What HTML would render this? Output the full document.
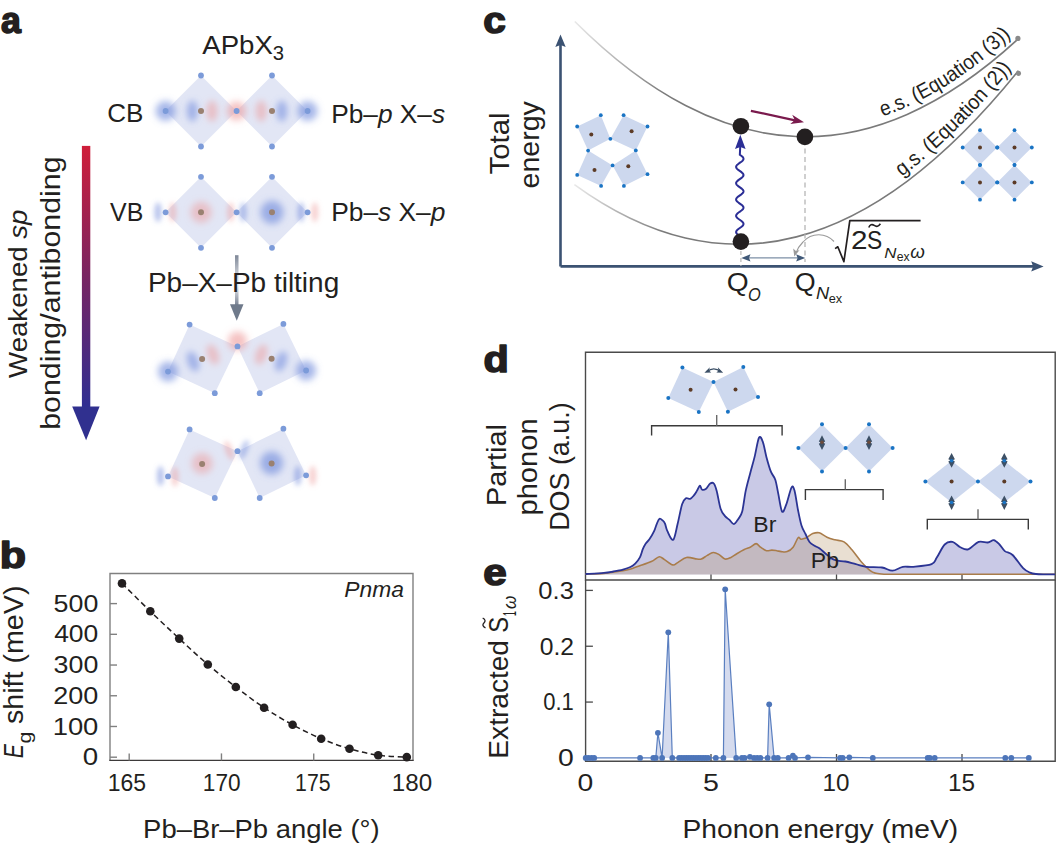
<!DOCTYPE html>
<html><head><meta charset="utf-8"><style>
html,body{margin:0;padding:0;background:#fff;}
svg{display:block;}
text{font-family:"Liberation Sans", sans-serif;}
</style></head><body>
<svg width="1056" height="845" viewBox="0 0 1056 845">
<rect width="1056" height="845" fill="#fff"/>
<defs>
<filter id="blur3" x="-100%" y="-100%" width="300%" height="300%"><feGaussianBlur stdDeviation="3"/></filter>
<filter id="blur4" x="-100%" y="-100%" width="300%" height="300%"><feGaussianBlur stdDeviation="4"/></filter>
<filter id="blur5" x="-100%" y="-100%" width="300%" height="300%"><feGaussianBlur stdDeviation="5"/></filter>
<filter id="blurR" x="-100%" y="-100%" width="300%" height="300%"><feGaussianBlur stdDeviation="3.6"/></filter>
<filter id="blurE" x="-100%" y="-100%" width="300%" height="300%"><feGaussianBlur stdDeviation="2.6"/></filter>
<filter id="blurC" x="-100%" y="-100%" width="300%" height="300%"><feGaussianBlur stdDeviation="3.4"/></filter>
<linearGradient id="gradArrow" x1="0" y1="0" x2="0" y2="1">
 <stop offset="0" stop-color="#cf1e3a"/><stop offset="0.5" stop-color="#782462"/><stop offset="1" stop-color="#2f2e92"/>
</linearGradient>
<linearGradient id="grayArrow" x1="0" y1="255" x2="0" y2="321" gradientUnits="userSpaceOnUse">
 <stop offset="0" stop-color="#7e8797"/><stop offset="0.45" stop-color="#eef0f3"/><stop offset="0.75" stop-color="#7e8797"/><stop offset="1" stop-color="#6f7a8b"/>
</linearGradient>
<linearGradient id="esGrad" x1="575" y1="0" x2="665" y2="0" gradientUnits="userSpaceOnUse">
 <stop offset="0" stop-color="#e8e8e8"/><stop offset="1" stop-color="#7a7a7a"/>
</linearGradient>
<linearGradient id="gsGrad" x1="575" y1="0" x2="665" y2="0" gradientUnits="userSpaceOnUse">
 <stop offset="0" stop-color="#e8e8e8"/><stop offset="1" stop-color="#7a7a7a"/>
</linearGradient>
</defs><text x="1.03" y="32.9" font-size="37.04" font-weight="bold" font-style="normal" textLength="19.86" lengthAdjust="spacingAndGlyphs" fill="#231f20" stroke="#231f20" stroke-width="1.6" stroke-linejoin="round">a</text><text x="-0.29" y="568.4" font-size="37.79" font-weight="bold" font-style="normal" textLength="26.25" lengthAdjust="spacingAndGlyphs" fill="#231f20" stroke="#231f20" stroke-width="1.6" stroke-linejoin="round">b</text><text x="483.38" y="32.9" font-size="37.04" font-weight="bold" font-style="normal" textLength="22.59" lengthAdjust="spacingAndGlyphs" fill="#231f20" stroke="#231f20" stroke-width="1.6" stroke-linejoin="round">c</text><text x="483.64" y="371.7" font-size="37.79" font-weight="bold" font-style="normal" textLength="25.28" lengthAdjust="spacingAndGlyphs" fill="#231f20" stroke="#231f20" stroke-width="1.6" stroke-linejoin="round">d</text><text x="483.31" y="584.8" font-size="37.04" font-weight="bold" font-style="normal" textLength="23.52" lengthAdjust="spacingAndGlyphs" fill="#231f20" stroke="#231f20" stroke-width="1.6" stroke-linejoin="round">e</text><path d="M110,760.4 V573.5 H413 V760.4" fill="none" stroke="#808080" stroke-width="1.4"/><path d="M109.3,760.4 H413.7" fill="none" stroke="#3d3a3a" stroke-width="1.3"/><path d="M110,757.2 h7" stroke="#808080" stroke-width="1.4"/><text x="82.89" y="765.3" font-size="23" font-weight="normal" font-style="normal" textLength="15.41" lengthAdjust="spacingAndGlyphs" fill="#231f20" >0</text><path d="M110,726.48 h7" stroke="#808080" stroke-width="1.4"/><text x="52.65" y="734.58" font-size="23" font-weight="normal" font-style="normal" textLength="45.71" lengthAdjust="spacingAndGlyphs" fill="#231f20" >100</text><path d="M110,695.76 h7" stroke="#808080" stroke-width="1.4"/><text x="53.35" y="703.86" font-size="23" font-weight="normal" font-style="normal" textLength="44.99" lengthAdjust="spacingAndGlyphs" fill="#231f20" >200</text><path d="M110,665.04 h7" stroke="#808080" stroke-width="1.4"/><text x="53.63" y="673.14" font-size="23" font-weight="normal" font-style="normal" textLength="44.7" lengthAdjust="spacingAndGlyphs" fill="#231f20" >300</text><path d="M110,634.32 h7" stroke="#808080" stroke-width="1.4"/><text x="54.17" y="642.42" font-size="23" font-weight="normal" font-style="normal" textLength="44.15" lengthAdjust="spacingAndGlyphs" fill="#231f20" >400</text><path d="M110,603.6 h7" stroke="#808080" stroke-width="1.4"/><text x="53.63" y="611.7" font-size="23" font-weight="normal" font-style="normal" textLength="44.7" lengthAdjust="spacingAndGlyphs" fill="#231f20" >500</text><path d="M129.2,760.4 v-7" stroke="#808080" stroke-width="1.4"/><text x="107.68" y="790.6" font-size="23.5" font-weight="normal" font-style="normal" textLength="38.32" lengthAdjust="spacingAndGlyphs" fill="#231f20" >165</text><path d="M221.46,760.4 v-7" stroke="#808080" stroke-width="1.4"/><text x="202.8" y="790.6" font-size="23.5" font-weight="normal" font-style="normal" textLength="37.77" lengthAdjust="spacingAndGlyphs" fill="#231f20" >170</text><path d="M313.73,760.4 v-7" stroke="#808080" stroke-width="1.4"/><text x="295.1" y="790.6" font-size="23.5" font-weight="normal" font-style="normal" textLength="35.52" lengthAdjust="spacingAndGlyphs" fill="#231f20" >175</text><path d="M406,760.4 v-7" stroke="#808080" stroke-width="1.4"/><text x="391.79" y="790.6" font-size="23.5" font-weight="normal" font-style="normal" textLength="40.34" lengthAdjust="spacingAndGlyphs" fill="#231f20" >180</text><path d="M122,583.4 C126.72,588.05 140.77,602.1 150.3,611.3 C159.83,620.5 169.62,629.73 179.2,638.6 C188.78,647.47 198.37,656.43 207.8,664.5 C217.23,672.57 226.42,679.8 235.8,687 C245.18,694.2 254.63,701.4 264.1,707.7 C273.57,714 283.08,719.63 292.6,724.8 C302.12,729.97 311.72,734.7 321.2,738.7 C330.68,742.7 340,746.05 349.5,748.8 C359,751.55 368.65,753.82 378.2,755.2 C387.75,756.58 402.03,756.78 406.8,757.1" fill="none" stroke="#231f20" stroke-width="1.5" stroke-dasharray="5.5 3.5"/><circle cx="122" cy="583.4" r="4.3" fill="#231f20"/><circle cx="150.3" cy="611.3" r="4.3" fill="#231f20"/><circle cx="179.2" cy="638.6" r="4.3" fill="#231f20"/><circle cx="207.8" cy="664.5" r="4.3" fill="#231f20"/><circle cx="235.8" cy="687.0" r="4.3" fill="#231f20"/><circle cx="264.1" cy="707.7" r="4.3" fill="#231f20"/><circle cx="292.6" cy="724.8" r="4.3" fill="#231f20"/><circle cx="321.2" cy="738.7" r="4.3" fill="#231f20"/><circle cx="349.5" cy="748.8" r="4.3" fill="#231f20"/><circle cx="378.2" cy="755.2" r="4.3" fill="#231f20"/><circle cx="406.8" cy="757.1" r="4.3" fill="#231f20"/><text x="344.22" y="596.9" font-size="22" font-weight="normal" font-style="italic" textLength="59.64" lengthAdjust="spacingAndGlyphs" fill="#231f20" >Pnma</text><g transform="translate(23.2,757.6) rotate(-90)"><text x="-0.64" y="0" font-size="27" font-weight="normal" font-style="italic" textLength="14.17" lengthAdjust="spacingAndGlyphs" fill="#231f20" >E</text><text x="14.05" y="8" font-size="18.5" font-weight="normal" font-style="normal" textLength="11.86" lengthAdjust="spacingAndGlyphs" fill="#231f20" >g</text><text x="33.54" y="0" font-size="27" font-weight="normal" font-style="normal" textLength="138.5" lengthAdjust="spacingAndGlyphs" fill="#231f20" >shift (meV)</text></g><text x="143.11" y="837.8" font-size="26" font-weight="normal" font-style="normal" textLength="236.6" lengthAdjust="spacingAndGlyphs" fill="#231f20" >Pb–Br–Pb angle (°)</text><path d="M585.6,579.8 V761.3 H1055.2 V579.8" fill="none" stroke="#4a4a4a" stroke-width="1.4"/><path d="M585.6,757.9 h7.3" stroke="#4a4a4a" stroke-width="1.3"/><text x="558.07" y="766.2" font-size="23" font-weight="normal" font-style="normal" textLength="15.76" lengthAdjust="spacingAndGlyphs" fill="#231f20" >0</text><path d="M585.6,702.07 h7.3" stroke="#4a4a4a" stroke-width="1.3"/><text x="543.22" y="710.37" font-size="23" font-weight="normal" font-style="normal" textLength="30.57" lengthAdjust="spacingAndGlyphs" fill="#231f20" >0.1</text><path d="M585.6,646.24 h7.3" stroke="#4a4a4a" stroke-width="1.3"/><text x="539.71" y="654.54" font-size="23" font-weight="normal" font-style="normal" textLength="34.33" lengthAdjust="spacingAndGlyphs" fill="#231f20" >0.2</text><path d="M585.6,590.41 h7.3" stroke="#4a4a4a" stroke-width="1.3"/><text x="538.38" y="598.71" font-size="23" font-weight="normal" font-style="normal" textLength="35.44" lengthAdjust="spacingAndGlyphs" fill="#231f20" >0.3</text><text x="577.57" y="791" font-size="23.5" font-weight="normal" font-style="normal" textLength="15.76" lengthAdjust="spacingAndGlyphs" fill="#231f20" >0</text><path d="M711,761.3 v-7.3" stroke="#4a4a4a" stroke-width="1.3"/><text x="703.05" y="791" font-size="23.5" font-weight="normal" font-style="normal" textLength="15.92" lengthAdjust="spacingAndGlyphs" fill="#231f20" >5</text><path d="M836.5,761.3 v-7.3" stroke="#4a4a4a" stroke-width="1.3"/><text x="822.58" y="791" font-size="23.5" font-weight="normal" font-style="normal" textLength="26.92" lengthAdjust="spacingAndGlyphs" fill="#231f20" >10</text><path d="M962,761.3 v-7.3" stroke="#4a4a4a" stroke-width="1.3"/><text x="948.08" y="791" font-size="23.5" font-weight="normal" font-style="normal" textLength="27.05" lengthAdjust="spacingAndGlyphs" fill="#231f20" >15</text><text x="682.55" y="837.8" font-size="26" font-weight="normal" font-style="normal" textLength="275.65" lengthAdjust="spacingAndGlyphs" fill="#231f20" >Phonon energy (meV)</text><g transform="translate(508.1,756.4) rotate(-90)"><text x="-2.25" y="0" font-size="27" font-weight="normal" font-style="normal" textLength="118.65" lengthAdjust="spacingAndGlyphs" fill="#231f20" >Extracted</text><text x="123.73" y="0" font-size="27" font-weight="normal" font-style="normal" textLength="15.89" lengthAdjust="spacingAndGlyphs" fill="#231f20" >S</text><path d="M128.6,-22.6 C129.8,-25.6 132,-25.8 133.4,-24.2 C134.8,-22.6 137,-22.4 138.2,-25.4" fill="none" stroke="#231f20" stroke-width="1.3"/><text x="140.11" y="8.3" font-size="17.5" font-weight="normal" font-style="normal" textLength="5.11" lengthAdjust="spacingAndGlyphs" fill="#231f20" >1</text><text x="147.38" y="8.3" font-size="17.5" font-weight="normal" font-style="italic" textLength="13.41" lengthAdjust="spacingAndGlyphs" fill="#231f20" >ω</text></g><path d="M585.5,580 V352.3 H1055.2 V580 Z" fill="none" stroke="#4a4a4a" stroke-width="1.4"/><path d="M711,580 v-7.5" stroke="#4a4a4a" stroke-width="1.3"/><path d="M836.5,580 v-7.5" stroke="#4a4a4a" stroke-width="1.3"/><path d="M962,580 v-7.5" stroke="#4a4a4a" stroke-width="1.3"/><g transform="translate(506.4,503.6) rotate(-90)"><text x="-2.31" y="0" font-size="27" font-weight="normal" font-style="normal" textLength="81.71" lengthAdjust="spacingAndGlyphs" fill="#231f20" >Partial</text></g><g transform="translate(536.6,513.7) rotate(-90)"><text x="-1.9" y="0" font-size="27" font-weight="normal" font-style="normal" textLength="97.35" lengthAdjust="spacingAndGlyphs" fill="#231f20" >phonon</text></g><g transform="translate(569,528.7) rotate(-90)"><text x="-2.15" y="0" font-size="27" font-weight="normal" font-style="normal" textLength="128.47" lengthAdjust="spacingAndGlyphs" fill="#231f20" >DOS (a.u.)</text></g><path d="M560.5,266.4 V45 M560.5,266.4 H1034" fill="none" stroke="#3b5272" stroke-width="2.6"/><path d="M1043.6,266.4 L1031.2,261.2 L1033.1,266.4 L1031.2,271.6 Z" fill="#3b5272"/><path d="M560.5,34.6 L555.3,47 L560.5,45 L565.7,47 Z" fill="#3b5272"/><g transform="translate(509.1,174) rotate(-90)"><text x="-0.59" y="0" font-size="28" font-weight="normal" font-style="normal" textLength="62.17" lengthAdjust="spacingAndGlyphs" fill="#231f20" >Total</text></g><g transform="translate(539.2,187.3) rotate(-90)"><text x="-1.14" y="0" font-size="28" font-weight="normal" font-style="normal" textLength="87.18" lengthAdjust="spacingAndGlyphs" fill="#231f20" >energy</text></g><path d="M574.8,21.48 Q630.19,76.78 685.57,105.54 Q740.96,134.3 796.35,136.51 Q851.74,138.73 907.12,114.41 Q962.51,90.08 1017.9,39.21" fill="none" stroke="url(#esGrad)" stroke-width="1.6"/><path d="M574.4,184.68 Q629.9,225.01 685.4,238.06 Q740.9,251.11 796.4,236.88 Q851.9,222.65 907.4,181.14 Q962.9,139.63 1018.4,70.85" fill="none" stroke="url(#gsGrad)" stroke-width="1.6"/><circle cx="1017.9" cy="38.4" r="2.6" fill="#8a8a8a"/><circle cx="1018.4" cy="73.3" r="2.6" fill="#8a8a8a"/><text x="887.52" y="114.75" font-size="21" text-anchor="middle" fill="#231f20" transform="rotate(-20.04 887.52 114.75) scale(1)"><tspan textLength="10.63" lengthAdjust="spacingAndGlyphs">e</tspan></text><text x="894.97" y="111.91" font-size="21" text-anchor="middle" fill="#231f20" transform="rotate(-21.70 894.97 111.91) scale(1)"><tspan textLength="5.31" lengthAdjust="spacingAndGlyphs">.</tspan></text><text x="901.84" y="109.07" font-size="21" text-anchor="middle" fill="#231f20" transform="rotate(-23.19 901.84 109.07) scale(1)"><tspan textLength="9.56" lengthAdjust="spacingAndGlyphs">s</tspan></text><text x="908.63" y="106.06" font-size="21" text-anchor="middle" fill="#231f20" transform="rotate(-24.62 908.63 106.06) scale(1)"><tspan textLength="5.31" lengthAdjust="spacingAndGlyphs">.</tspan></text><text x="918.68" y="101.23" font-size="21" text-anchor="middle" fill="#231f20" transform="rotate(-26.70 918.68 101.23) scale(1)"><tspan textLength="6.37" lengthAdjust="spacingAndGlyphs">(</tspan></text><text x="927.16" y="96.81" font-size="21" text-anchor="middle" fill="#231f20" transform="rotate(-28.37 927.16 96.81) scale(1)"><tspan textLength="12.75" lengthAdjust="spacingAndGlyphs">E</tspan></text><text x="937.35" y="91.07" font-size="21" text-anchor="middle" fill="#231f20" transform="rotate(-30.35 937.35 91.07) scale(1)"><tspan textLength="10.63" lengthAdjust="spacingAndGlyphs">q</tspan></text><text x="946.44" y="85.57" font-size="21" text-anchor="middle" fill="#231f20" transform="rotate(-32.03 946.44 85.57) scale(1)"><tspan textLength="10.63" lengthAdjust="spacingAndGlyphs">u</tspan></text><text x="955.38" y="79.8" font-size="21" text-anchor="middle" fill="#231f20" transform="rotate(-33.61 955.38 79.8) scale(1)"><tspan textLength="10.63" lengthAdjust="spacingAndGlyphs">a</tspan></text><text x="961.97" y="75.33" font-size="21" text-anchor="middle" fill="#231f20" transform="rotate(-34.75 961.97 75.33) scale(1)"><tspan textLength="5.31" lengthAdjust="spacingAndGlyphs">t</tspan></text><text x="965.88" y="72.58" font-size="21" text-anchor="middle" fill="#231f20" transform="rotate(-35.40 965.88 72.58) scale(1)"><tspan textLength="4.25" lengthAdjust="spacingAndGlyphs">i</tspan></text><text x="971.91" y="68.22" font-size="21" text-anchor="middle" fill="#231f20" transform="rotate(-36.40 971.91 68.22) scale(1)"><tspan textLength="10.63" lengthAdjust="spacingAndGlyphs">o</tspan></text><text x="980.39" y="61.8" font-size="21" text-anchor="middle" fill="#231f20" transform="rotate(-37.77 980.39 61.8) scale(1)"><tspan textLength="10.63" lengthAdjust="spacingAndGlyphs">n</tspan></text><text x="991.18" y="53.19" font-size="21" text-anchor="middle" fill="#231f20" transform="rotate(-39.43 991.18 53.19) scale(1)"><tspan textLength="6.37" lengthAdjust="spacingAndGlyphs">(</tspan></text><text x="997.7" y="47.74" font-size="21" text-anchor="middle" fill="#231f20" transform="rotate(-40.39 997.7 47.74) scale(1)"><tspan textLength="10.63" lengthAdjust="spacingAndGlyphs">3</tspan></text><text x="1004.13" y="42.18" font-size="21" text-anchor="middle" fill="#231f20" transform="rotate(-41.31 1004.13 42.18) scale(1)"><tspan textLength="6.37" lengthAdjust="spacingAndGlyphs">)</tspan></text><text x="1008.89" y="37.95" font-size="21" text-anchor="middle" fill="#231f20" transform="rotate(-41.97 1008.89 37.95) scale(1)"><tspan textLength="6.37" lengthAdjust="spacingAndGlyphs">)</tspan></text><text x="905.93" y="173.48" font-size="21" text-anchor="middle" fill="#231f20" transform="rotate(-37.24 905.93 173.48) scale(1)"><tspan textLength="10.77" lengthAdjust="spacingAndGlyphs">g</tspan></text><text x="912.31" y="168.54" font-size="21" text-anchor="middle" fill="#231f20" transform="rotate(-38.26 912.31 168.54) scale(1)"><tspan textLength="5.38" lengthAdjust="spacingAndGlyphs">.</tspan></text><text x="918.19" y="163.83" font-size="21" text-anchor="middle" fill="#231f20" transform="rotate(-39.19 918.19 163.83) scale(1)"><tspan textLength="9.68" lengthAdjust="spacingAndGlyphs">s</tspan></text><text x="923.99" y="159.02" font-size="21" text-anchor="middle" fill="#231f20" transform="rotate(-40.07 923.99 159.02) scale(1)"><tspan textLength="5.38" lengthAdjust="spacingAndGlyphs">.</tspan></text><text x="932.55" y="151.65" font-size="21" text-anchor="middle" fill="#231f20" transform="rotate(-41.34 932.55 151.65) scale(1)"><tspan textLength="6.45" lengthAdjust="spacingAndGlyphs">(</tspan></text><text x="939.76" y="145.19" font-size="21" text-anchor="middle" fill="#231f20" transform="rotate(-42.37 939.76 145.19) scale(1)"><tspan textLength="12.92" lengthAdjust="spacingAndGlyphs">E</tspan></text><text x="948.43" y="137.12" font-size="21" text-anchor="middle" fill="#231f20" transform="rotate(-43.56 948.43 137.12) scale(1)"><tspan textLength="10.77" lengthAdjust="spacingAndGlyphs">q</tspan></text><text x="956.17" y="129.63" font-size="21" text-anchor="middle" fill="#231f20" transform="rotate(-44.58 956.17 129.63) scale(1)"><tspan textLength="10.77" lengthAdjust="spacingAndGlyphs">u</tspan></text><text x="963.77" y="122" font-size="21" text-anchor="middle" fill="#231f20" transform="rotate(-45.56 963.77 122) scale(1)"><tspan textLength="10.77" lengthAdjust="spacingAndGlyphs">a</tspan></text><text x="969.39" y="116.2" font-size="21" text-anchor="middle" fill="#231f20" transform="rotate(-46.25 969.39 116.2) scale(1)"><tspan textLength="5.38" lengthAdjust="spacingAndGlyphs">t</tspan></text><text x="972.73" y="112.69" font-size="21" text-anchor="middle" fill="#231f20" transform="rotate(-46.66 972.73 112.69) scale(1)"><tspan textLength="4.3" lengthAdjust="spacingAndGlyphs">i</tspan></text><text x="977.87" y="107.18" font-size="21" text-anchor="middle" fill="#231f20" transform="rotate(-47.28 977.87 107.18) scale(1)"><tspan textLength="10.77" lengthAdjust="spacingAndGlyphs">o</tspan></text><text x="985.12" y="99.22" font-size="21" text-anchor="middle" fill="#231f20" transform="rotate(-48.11 985.12 99.22) scale(1)"><tspan textLength="10.77" lengthAdjust="spacingAndGlyphs">n</tspan></text><text x="994.37" y="88.72" font-size="21" text-anchor="middle" fill="#231f20" transform="rotate(-49.16 994.37 88.72) scale(1)"><tspan textLength="6.45" lengthAdjust="spacingAndGlyphs">(</tspan></text><text x="999.96" y="82.17" font-size="21" text-anchor="middle" fill="#231f20" transform="rotate(-49.75 999.96 82.17) scale(1)"><tspan textLength="10.77" lengthAdjust="spacingAndGlyphs">2</tspan></text><text x="1005.49" y="75.57" font-size="21" text-anchor="middle" fill="#231f20" transform="rotate(-50.33 1005.49 75.57) scale(1)"><tspan textLength="6.45" lengthAdjust="spacingAndGlyphs">)</tspan></text><text x="1009.59" y="70.59" font-size="21" text-anchor="middle" fill="#231f20" transform="rotate(-50.76 1009.59 70.59) scale(1)"><tspan textLength="6.45" lengthAdjust="spacingAndGlyphs">)</tspan></text><path d="M740.9,244 V266" stroke="#b8b8b8" stroke-width="1.2" stroke-dasharray="4 3"/><path d="M805,140 V262" stroke="#b0b0b0" stroke-width="1.2" stroke-dasharray="5 3.5"/><path d="M747,257.9 H799" stroke="#7d8fa6" stroke-width="1.3"/><path d="M741.3,257.9 L750.5,254.3 L749,257.9 L750.5,261.5 Z" fill="#3f5877"/><path d="M805.3,257.9 L796.1,254.3 L797.6,257.9 L796.1,261.5 Z" fill="#3f5877"/><path d="M834,241.5 C826,233 812,232 803,242 C799,246 797,250 796,253" fill="none" stroke="#9a9a9a" stroke-width="1.1"/><path d="M794.3,256.5 L793.2,248.5 L796.2,251.2 L799.6,250 Z" fill="#9a9a9a"/><path d="M737.57,234.5 L737.05,234 L736.63,233.5 L736.32,233 L736.14,232.5 L736.1,232.01 L736.2,231.51 L736.42,231.01 L736.77,230.51 L737.24,230.01 L737.79,229.51 L738.42,229.01 L739.11,228.51 L739.81,228.02 L740.52,227.52 L741.2,227.02 L741.83,226.52 L742.38,226.02 L742.84,225.52 L743.19,225.02 L743.41,224.53 L743.5,224.03 L743.45,223.53 L743.27,223.03 L742.96,222.53 L742.53,222.03 L742.01,221.53 L741.4,221.03 L740.73,220.53 L740.03,220.04 L739.32,219.54 L738.63,219.04 L737.98,218.54 L737.4,218.04 L736.9,217.54 L736.52,217.04 L736.25,216.54 L736.12,216.05 L736.12,215.55 L736.25,215.05 L736.52,214.55 L736.91,214.05 L737.4,213.55 L737.99,213.05 L738.64,212.56 L739.33,212.06 L740.04,211.56 L740.74,211.06 L741.41,210.56 L742.01,210.06 L742.54,209.56 L742.96,209.06 L743.27,208.56 L743.45,208.07 L743.5,207.57 L743.41,207.07 L743.18,206.57 L742.84,206.07 L742.38,205.57 L741.82,205.07 L741.19,204.57 L740.51,204.08 L739.8,203.58 L739.1,203.08 L738.42,202.58 L737.79,202.08 L737.23,201.58 L736.77,201.08 L736.42,200.58 L736.19,200.09 L736.1,199.59 L736.15,199.09 L736.33,198.59 L736.63,198.09 L737.06,197.59 L737.58,197.09 L738.19,196.59 L738.85,196.1 L739.55,195.6 L740.26,195.1 L740.96,194.6 L741.61,194.1 L742.19,193.6 L742.69,193.1 L743.08,192.6 L743.34,192.11 L743.48,191.61 L743.48,191.11 L743.35,190.61 L743.09,190.11 L742.7,189.61 L742.21,189.11 L741.63,188.62 L740.98,188.12 L740.29,187.62 L739.58,187.12 L738.88,186.62 L738.21,186.12 L737.6,185.62 L737.07,185.12 L736.64,184.62 L736.33,184.13 L736.15,183.63 L736.1,183.13 L736.19,182.63 L736.41,182.13 L736.76,181.63 L737.21,181.13 L737.77,180.63 L738.39,180.14 L739.07,179.64 L739.78,179.14 L740.49,178.64 L741.17,178.14 L741.8,177.64 L742.36,177.14 L742.82,176.64 L743.17,176.15 L743.4,175.65 L743.5,175.15 L743.46,174.65 L743.28,174.15 L742.98,173.65 L742.55,173.15 L742.03,172.66 L741.43,172.16 L740.76,171.66 L740.06,171.16 L739.35,170.66 L738.66,170.16 L738.01,169.66 L737.42,169.16 L736.92,168.66 L736.53,168.17 L736.26,167.67 L736.12,167.17 L736.11,166.67 L736.25,166.17 L736.51,165.67 L736.89,165.17 L737.38,164.67 L737.96,164.18 L738.61,163.68 L739.3,163.18 L740.01,162.68 L740.71,162.18 L741.38,161.68 L741.99,161.18 L742.52,160.69 L742.95,160.19 L743.26,159.69 L743.45,159.19 L743.5,158.69 L743.41,158.19 L743.2,157.69 L742.85,157.19 L742.4,156.69 L741.85,156.2 L741.22,155.7 L740.54,155.2 L739.84,154.7 L740.2,147" fill="none" stroke="#2b2e96" stroke-width="2"/><path d="M740.3,134.8 L735,149 L740.3,147 L745.6,149 Z" fill="#2b2e96"/><path d="M750.9,110.8 L795,120.3" stroke="#7a1a4d" stroke-width="2.3"/><path d="M804,122.2 L792.2,114.8 L794.8,120.1 L790.3,124 Z" fill="#7a1a4d"/><circle cx="740.9" cy="126.2" r="8.3" fill="#231f20"/><circle cx="804.9" cy="136.9" r="8.3" fill="#231f20"/><circle cx="740.9" cy="241.6" r="8.3" fill="#231f20"/><text x="726.83" y="291" font-size="26.5" font-weight="normal" font-style="normal" textLength="21.92" lengthAdjust="spacingAndGlyphs" fill="#231f20" >Q</text><text x="747.9" y="300.7" font-size="18.5" font-weight="normal" font-style="italic" textLength="12.76" lengthAdjust="spacingAndGlyphs" fill="#231f20" >O</text><text x="794.79" y="291" font-size="26.5" font-weight="normal" font-style="normal" textLength="20.89" lengthAdjust="spacingAndGlyphs" fill="#231f20" >Q</text><text x="816.05" y="299.3" font-size="17" font-weight="normal" font-style="italic" textLength="13.2" lengthAdjust="spacingAndGlyphs" fill="#231f20" >N</text><text x="828.79" y="303.3" font-size="13.5" font-weight="normal" font-style="normal" textLength="13.45" lengthAdjust="spacingAndGlyphs" fill="#231f20" >ex</text><path d="M835.1,248.6 L837.8,246.8 L843.9,261.6 L849.8,220.7 H920.6" fill="none" stroke="#231f20" stroke-width="1.7" stroke-linejoin="round"/><text x="850.92" y="248.6" font-size="26.5" font-weight="normal" font-style="normal" textLength="16.5" lengthAdjust="spacingAndGlyphs" fill="#231f20" >2</text><text x="866.97" y="248.6" font-size="26.5" font-weight="normal" font-style="normal" textLength="15.2" lengthAdjust="spacingAndGlyphs" fill="#231f20" >S</text><path d="M868.8,227.4 C869.8,224.6 872,223.8 874.2,225.4 C876.4,227 878.6,226.6 880.4,223.8" fill="none" stroke="#231f20" stroke-width="1.6"/><text x="884.29" y="257.6" font-size="15" font-weight="normal" font-style="italic" textLength="12.16" lengthAdjust="spacingAndGlyphs" fill="#231f20" >N</text><text x="896.71" y="261.1" font-size="12.5" font-weight="normal" font-style="normal" textLength="12.93" lengthAdjust="spacingAndGlyphs" fill="#231f20" >ex</text><text x="910.14" y="257.6" font-size="19" font-weight="normal" font-style="italic" textLength="14.6" lengthAdjust="spacingAndGlyphs" fill="#231f20" >ω</text><polygon points="577.2,126.5 600.8,115.2 610.4,138.8 588.1,150.6" fill="#cdd8ee" /><polygon points="623.6,115.2 647.5,126.5 635.8,150.4 610.4,138.8" fill="#cdd8ee" /><polygon points="588.1,150.6 612.6,165.4 601.1,185.9 577.2,174.9" fill="#cdd8ee" /><polygon points="635.8,150.4 647.5,174.2 623.9,185.9 612.6,165.4" fill="#cdd8ee" /><circle cx="577.2" cy="126.5" r="1.9" fill="#1a74c4"/><circle cx="600.8" cy="115.2" r="1.9" fill="#1a74c4"/><circle cx="610.4" cy="138.8" r="1.9" fill="#1a74c4"/><circle cx="588.1" cy="150.6" r="1.9" fill="#1a74c4"/><circle cx="591.3" cy="134.5" r="2.0" fill="#5c3b26"/><circle cx="623.6" cy="115.2" r="1.9" fill="#1a74c4"/><circle cx="647.5" cy="126.5" r="1.9" fill="#1a74c4"/><circle cx="635.8" cy="150.4" r="1.9" fill="#1a74c4"/><circle cx="631.6" cy="131.3" r="2.0" fill="#5c3b26"/><circle cx="612.6" cy="165.4" r="1.9" fill="#1a74c4"/><circle cx="601.1" cy="185.9" r="1.9" fill="#1a74c4"/><circle cx="577.2" cy="174.9" r="1.9" fill="#1a74c4"/><circle cx="594.5" cy="170" r="2.0" fill="#5c3b26"/><circle cx="647.5" cy="174.2" r="1.9" fill="#1a74c4"/><circle cx="623.9" cy="185.9" r="1.9" fill="#1a74c4"/><circle cx="628.3" cy="166.3" r="2.0" fill="#5c3b26"/><polygon points="962.7,147.5 980,130.2 997.3,147.5 980,164.8" fill="#cdd8ee" /><polygon points="997.2,147.5 1014.5,130.2 1031.8,147.5 1014.5,164.8" fill="#cdd8ee" /><polygon points="962.7,182.4 980,165.1 997.3,182.4 980,199.7" fill="#cdd8ee" /><polygon points="997.2,182.4 1014.5,165.1 1031.8,182.4 1014.5,199.7" fill="#cdd8ee" /><circle cx="962.7" cy="147.5" r="1.9" fill="#1a74c4"/><circle cx="980" cy="130.2" r="1.9" fill="#1a74c4"/><circle cx="997.3" cy="147.5" r="1.9" fill="#1a74c4"/><circle cx="980" cy="164.8" r="1.9" fill="#1a74c4"/><circle cx="980" cy="147.5" r="2.0" fill="#5c3b26"/><circle cx="997.2" cy="147.5" r="1.9" fill="#1a74c4"/><circle cx="1014.5" cy="130.2" r="1.9" fill="#1a74c4"/><circle cx="1031.8" cy="147.5" r="1.9" fill="#1a74c4"/><circle cx="1014.5" cy="164.8" r="1.9" fill="#1a74c4"/><circle cx="1014.5" cy="147.5" r="2.0" fill="#5c3b26"/><circle cx="962.7" cy="182.4" r="1.9" fill="#1a74c4"/><circle cx="980" cy="165.1" r="1.9" fill="#1a74c4"/><circle cx="997.3" cy="182.4" r="1.9" fill="#1a74c4"/><circle cx="980" cy="199.7" r="1.9" fill="#1a74c4"/><circle cx="980" cy="182.4" r="2.0" fill="#5c3b26"/><circle cx="997.2" cy="182.4" r="1.9" fill="#1a74c4"/><circle cx="1014.5" cy="165.1" r="1.9" fill="#1a74c4"/><circle cx="1031.8" cy="182.4" r="1.9" fill="#1a74c4"/><circle cx="1014.5" cy="199.7" r="1.9" fill="#1a74c4"/><circle cx="1014.5" cy="182.4" r="2.0" fill="#5c3b26"/><path d="M585.5,574 C588.57,573.82 599.25,573.32 603.9,572.9 C608.55,572.48 610.23,572.05 613.4,571.5 C616.57,570.95 620.07,570.35 622.9,569.6 C625.73,568.85 628.35,568 630.4,567 C632.45,566 633.62,565.22 635.2,563.6 C636.78,561.98 638.63,559.7 639.9,557.3 C641.17,554.9 641.85,551.47 642.8,549.2 C643.75,546.93 644.5,545.35 645.6,543.7 C646.7,542.05 647.98,541.38 649.4,539.3 C650.82,537.22 652.92,533.65 654.1,531.2 C655.28,528.75 655.63,526.65 656.5,524.6 C657.37,522.55 658.28,519.6 659.3,518.9 C660.32,518.2 661.65,519.6 662.6,520.4 C663.55,521.2 664.22,521.95 665,523.7 C665.78,525.45 665.93,528.22 667.3,530.9 C668.67,533.58 671.47,541.03 673.2,539.8 C674.93,538.57 676.22,529.42 677.7,523.5 C679.18,517.58 680.73,508.5 682.1,504.3 C683.47,500.1 684.57,499.2 685.9,498.3 C687.23,497.4 688.77,499.38 690.1,498.9 C691.43,498.42 692.77,496.73 693.9,495.4 C695.03,494.07 695.9,492.53 696.9,490.9 C697.9,489.27 699.07,485.83 699.9,485.6 C700.73,485.37 700.92,488.95 701.9,489.5 C702.88,490.05 704.42,489.9 705.8,488.9 C707.18,487.9 708.87,484.4 710.2,483.5 C711.53,482.6 712.72,482.27 713.8,483.5 C714.88,484.73 715.57,486.7 716.7,490.9 C717.83,495.1 719.22,504.5 720.6,508.7 C721.98,512.9 723.52,514.23 725,516.1 C726.48,517.97 728.02,518.57 729.5,519.9 C730.98,521.23 732.43,524.25 733.9,524.1 C735.37,523.95 736.92,521.08 738.3,519 C739.68,516.92 740.97,516.28 742.2,511.6 C743.43,506.92 744.37,497.3 745.7,490.9 C747.03,484.5 748.72,478.87 750.2,473.2 C751.68,467.53 753.13,462.82 754.6,456.9 C756.07,450.98 757.62,440.17 759,437.7 C760.38,435.23 761.67,438.9 762.9,442.1 C764.13,445.3 765.07,451.97 766.4,456.9 C767.73,461.83 769.42,467.9 770.9,471.7 C772.38,475.5 774.07,476 775.3,479.7 C776.53,483.4 777.17,488.58 778.3,493.9 C779.43,499.22 780.77,509.87 782.1,511.6 C783.43,513.33 784.72,508.33 786.3,504.3 C787.88,500.27 790.22,489.63 791.6,487.4 C792.98,485.17 793.53,487.13 794.6,490.9 C795.67,494.67 796.85,504.23 798,510 C799.15,515.77 800.25,521.5 801.5,525.5 C802.75,529.5 804.17,531.25 805.5,534 C806.83,536.75 807.92,540 809.5,542 C811.08,544 813.3,544.92 815,546 C816.7,547.08 817.87,547.17 819.7,548.5 C821.53,549.83 823.9,552.27 826,554 C828.1,555.73 830.38,557.78 832.3,558.9 C834.22,560.02 835.33,560.27 837.5,560.7 C839.67,561.13 842.25,560.92 845.3,561.5 C848.35,562.08 852.32,563.32 855.8,564.2 C859.28,565.08 861.85,566.25 866.2,566.8 C870.55,567.35 877.53,566.85 881.9,567.5 C886.27,568.15 888.92,570.82 892.4,570.7 C895.88,570.58 899.32,567.45 902.8,566.8 C906.28,566.15 908.5,567.23 913.3,566.8 C918.1,566.37 927.68,565.73 931.6,564.2 C935.52,562.67 934.62,560.88 936.8,557.6 C938.98,554.32 942.08,547.12 944.7,544.5 C947.32,541.88 949.9,541.45 952.5,541.9 C955.1,542.35 957.68,545.97 960.3,547.2 C962.92,548.43 965.15,550.18 968.2,549.3 C971.25,548.42 975.33,543.03 978.6,541.9 C981.87,540.77 985.27,542.8 987.8,542.5 C990.33,542.2 991.85,539.77 993.8,540.1 C995.75,540.43 997.67,542.67 999.5,544.5 C1001.33,546.33 1002.62,549.35 1004.8,551.1 C1006.98,552.85 1009.55,552.17 1012.6,555 C1015.65,557.83 1020.2,565.17 1023.1,568.1 C1026,571.03 1027.85,571.62 1030,572.6 C1032.15,573.58 1033.5,573.72 1036,574 C1038.5,574.28 1041.83,574.25 1045,574.3 C1048.17,574.35 1053.33,574.3 1055,574.3 L1055,574.4 L585.5,574.4 Z" fill="#c9c9e6"/><path d="M585.5,574 C588.57,573.9 597.67,573.93 603.9,573.4 C610.13,572.87 618.17,571.63 622.9,570.8 C627.63,569.97 629.15,569.35 632.3,568.4 C635.45,567.45 639.27,566 641.8,565.1 C644.33,564.2 645.6,563.75 647.5,563 C649.4,562.25 651.23,561.63 653.2,560.6 C655.17,559.57 657.42,556.97 659.3,556.8 C661.18,556.63 662.25,558.25 664.5,559.6 C666.75,560.95 670.6,564.4 672.8,564.9 C675,565.4 675.42,563.83 677.7,562.6 C679.98,561.37 683.3,558.1 686.5,557.5 C689.7,556.9 694.43,558.75 696.9,559 C699.37,559.25 699.57,559.6 701.3,559 C703.03,558.4 705.32,556.48 707.3,555.4 C709.28,554.32 711.23,552.63 713.2,552.5 C715.17,552.37 717.13,553.52 719.1,554.6 C721.07,555.68 723.03,558.52 725,559 C726.97,559.48 728.93,558.38 730.9,557.5 C732.87,556.62 734.57,555.03 736.8,553.7 C739.03,552.37 742.07,550.58 744.3,549.5 C746.53,548.42 748.23,548.18 750.2,547.2 C752.17,546.22 754.38,543.6 756.1,543.6 C757.82,543.6 758.78,546.02 760.5,547.2 C762.22,548.38 764.52,550.22 766.4,550.7 C768.28,551.18 770.07,550.1 771.8,550.1 C773.53,550.1 775.23,550.45 776.8,550.7 C778.37,550.95 779.47,551.45 781.2,551.6 C782.93,551.75 785.22,552.33 787.2,551.6 C789.18,550.87 791.28,549.52 793.1,547.2 C794.92,544.88 796.78,539.02 798.1,537.7 C799.42,536.38 799.87,539.2 801,539.3 C802.13,539.4 803.83,538.65 804.9,538.3 C805.97,537.95 806.1,537.98 807.4,537.2 C808.7,536.42 810.73,534.33 812.7,533.6 C814.67,532.87 816.82,532.2 819.2,532.8 C821.58,533.4 824.38,536.03 827,537.2 C829.62,538.37 832.07,539.02 834.9,539.8 C837.73,540.58 841.17,540.23 844,541.9 C846.83,543.57 849.07,546.53 851.9,549.8 C854.73,553.07 857.95,558.02 861,561.5 C864.05,564.98 867.7,568.73 870.2,570.7 C872.7,572.67 873.7,572.72 876,573.3 C878.3,573.88 880,574.03 884,574.2 C888,574.37 892.33,574.28 900,574.3 C907.67,574.32 920,574.3 930,574.3 C940,574.3 950,574.3 960,574.3 C970,574.3 980,574.3 990,574.3 C1000,574.3 1009.17,574.3 1020,574.3 C1030.83,574.3 1049.17,574.3 1055,574.3 L1055,574.4 L585.5,574.4 Z" fill="rgb(182,148,105)" fill-opacity="0.3"/><path d="M585.5,574 C588.57,573.9 597.67,573.93 603.9,573.4 C610.13,572.87 618.17,571.63 622.9,570.8 C627.63,569.97 629.15,569.35 632.3,568.4 C635.45,567.45 639.27,566 641.8,565.1 C644.33,564.2 645.6,563.75 647.5,563 C649.4,562.25 651.23,561.63 653.2,560.6 C655.17,559.57 657.42,556.97 659.3,556.8 C661.18,556.63 662.25,558.25 664.5,559.6 C666.75,560.95 670.6,564.4 672.8,564.9 C675,565.4 675.42,563.83 677.7,562.6 C679.98,561.37 683.3,558.1 686.5,557.5 C689.7,556.9 694.43,558.75 696.9,559 C699.37,559.25 699.57,559.6 701.3,559 C703.03,558.4 705.32,556.48 707.3,555.4 C709.28,554.32 711.23,552.63 713.2,552.5 C715.17,552.37 717.13,553.52 719.1,554.6 C721.07,555.68 723.03,558.52 725,559 C726.97,559.48 728.93,558.38 730.9,557.5 C732.87,556.62 734.57,555.03 736.8,553.7 C739.03,552.37 742.07,550.58 744.3,549.5 C746.53,548.42 748.23,548.18 750.2,547.2 C752.17,546.22 754.38,543.6 756.1,543.6 C757.82,543.6 758.78,546.02 760.5,547.2 C762.22,548.38 764.52,550.22 766.4,550.7 C768.28,551.18 770.07,550.1 771.8,550.1 C773.53,550.1 775.23,550.45 776.8,550.7 C778.37,550.95 779.47,551.45 781.2,551.6 C782.93,551.75 785.22,552.33 787.2,551.6 C789.18,550.87 791.28,549.52 793.1,547.2 C794.92,544.88 796.78,539.02 798.1,537.7 C799.42,536.38 799.87,539.2 801,539.3 C802.13,539.4 803.83,538.65 804.9,538.3 C805.97,537.95 806.1,537.98 807.4,537.2 C808.7,536.42 810.73,534.33 812.7,533.6 C814.67,532.87 816.82,532.2 819.2,532.8 C821.58,533.4 824.38,536.03 827,537.2 C829.62,538.37 832.07,539.02 834.9,539.8 C837.73,540.58 841.17,540.23 844,541.9 C846.83,543.57 849.07,546.53 851.9,549.8 C854.73,553.07 857.95,558.02 861,561.5 C864.05,564.98 867.7,568.73 870.2,570.7 C872.7,572.67 873.7,572.72 876,573.3 C878.3,573.88 880,574.03 884,574.2 C888,574.37 892.33,574.28 900,574.3 C907.67,574.32 920,574.3 930,574.3 C940,574.3 950,574.3 960,574.3 C970,574.3 980,574.3 990,574.3 C1000,574.3 1009.17,574.3 1020,574.3 C1030.83,574.3 1049.17,574.3 1055,574.3" fill="none" stroke="#a97c4a" stroke-width="1.6" stroke-linejoin="round"/><path d="M585.5,574 C588.57,573.82 599.25,573.32 603.9,572.9 C608.55,572.48 610.23,572.05 613.4,571.5 C616.57,570.95 620.07,570.35 622.9,569.6 C625.73,568.85 628.35,568 630.4,567 C632.45,566 633.62,565.22 635.2,563.6 C636.78,561.98 638.63,559.7 639.9,557.3 C641.17,554.9 641.85,551.47 642.8,549.2 C643.75,546.93 644.5,545.35 645.6,543.7 C646.7,542.05 647.98,541.38 649.4,539.3 C650.82,537.22 652.92,533.65 654.1,531.2 C655.28,528.75 655.63,526.65 656.5,524.6 C657.37,522.55 658.28,519.6 659.3,518.9 C660.32,518.2 661.65,519.6 662.6,520.4 C663.55,521.2 664.22,521.95 665,523.7 C665.78,525.45 665.93,528.22 667.3,530.9 C668.67,533.58 671.47,541.03 673.2,539.8 C674.93,538.57 676.22,529.42 677.7,523.5 C679.18,517.58 680.73,508.5 682.1,504.3 C683.47,500.1 684.57,499.2 685.9,498.3 C687.23,497.4 688.77,499.38 690.1,498.9 C691.43,498.42 692.77,496.73 693.9,495.4 C695.03,494.07 695.9,492.53 696.9,490.9 C697.9,489.27 699.07,485.83 699.9,485.6 C700.73,485.37 700.92,488.95 701.9,489.5 C702.88,490.05 704.42,489.9 705.8,488.9 C707.18,487.9 708.87,484.4 710.2,483.5 C711.53,482.6 712.72,482.27 713.8,483.5 C714.88,484.73 715.57,486.7 716.7,490.9 C717.83,495.1 719.22,504.5 720.6,508.7 C721.98,512.9 723.52,514.23 725,516.1 C726.48,517.97 728.02,518.57 729.5,519.9 C730.98,521.23 732.43,524.25 733.9,524.1 C735.37,523.95 736.92,521.08 738.3,519 C739.68,516.92 740.97,516.28 742.2,511.6 C743.43,506.92 744.37,497.3 745.7,490.9 C747.03,484.5 748.72,478.87 750.2,473.2 C751.68,467.53 753.13,462.82 754.6,456.9 C756.07,450.98 757.62,440.17 759,437.7 C760.38,435.23 761.67,438.9 762.9,442.1 C764.13,445.3 765.07,451.97 766.4,456.9 C767.73,461.83 769.42,467.9 770.9,471.7 C772.38,475.5 774.07,476 775.3,479.7 C776.53,483.4 777.17,488.58 778.3,493.9 C779.43,499.22 780.77,509.87 782.1,511.6 C783.43,513.33 784.72,508.33 786.3,504.3 C787.88,500.27 790.22,489.63 791.6,487.4 C792.98,485.17 793.53,487.13 794.6,490.9 C795.67,494.67 796.85,504.23 798,510 C799.15,515.77 800.25,521.5 801.5,525.5 C802.75,529.5 804.17,531.25 805.5,534 C806.83,536.75 807.92,540 809.5,542 C811.08,544 813.3,544.92 815,546 C816.7,547.08 817.87,547.17 819.7,548.5 C821.53,549.83 823.9,552.27 826,554 C828.1,555.73 830.38,557.78 832.3,558.9 C834.22,560.02 835.33,560.27 837.5,560.7 C839.67,561.13 842.25,560.92 845.3,561.5 C848.35,562.08 852.32,563.32 855.8,564.2 C859.28,565.08 861.85,566.25 866.2,566.8 C870.55,567.35 877.53,566.85 881.9,567.5 C886.27,568.15 888.92,570.82 892.4,570.7 C895.88,570.58 899.32,567.45 902.8,566.8 C906.28,566.15 908.5,567.23 913.3,566.8 C918.1,566.37 927.68,565.73 931.6,564.2 C935.52,562.67 934.62,560.88 936.8,557.6 C938.98,554.32 942.08,547.12 944.7,544.5 C947.32,541.88 949.9,541.45 952.5,541.9 C955.1,542.35 957.68,545.97 960.3,547.2 C962.92,548.43 965.15,550.18 968.2,549.3 C971.25,548.42 975.33,543.03 978.6,541.9 C981.87,540.77 985.27,542.8 987.8,542.5 C990.33,542.2 991.85,539.77 993.8,540.1 C995.75,540.43 997.67,542.67 999.5,544.5 C1001.33,546.33 1002.62,549.35 1004.8,551.1 C1006.98,552.85 1009.55,552.17 1012.6,555 C1015.65,557.83 1020.2,565.17 1023.1,568.1 C1026,571.03 1027.85,571.62 1030,572.6 C1032.15,573.58 1033.5,573.72 1036,574 C1038.5,574.28 1041.83,574.25 1045,574.3 C1048.17,574.35 1053.33,574.3 1055,574.3" fill="none" stroke="#2b3494" stroke-width="1.8" stroke-linejoin="round"/><text x="753.36" y="531.8" font-size="22" font-weight="normal" font-style="normal" textLength="23" lengthAdjust="spacingAndGlyphs" fill="#231f20" >Br</text><text x="810.86" y="568.1" font-size="22" font-weight="normal" font-style="normal" textLength="28.13" lengthAdjust="spacingAndGlyphs" fill="#231f20" >Pb</text><path d="M651.6,435.6 V425.8 H782.1 V435.6" fill="none" stroke="#3a3a3a" stroke-width="1.4"/><path d="M716.7,425.8 V415.0" stroke="#6a6a6a" stroke-width="1.4"/><path d="M805.4,500.0 V489.6 H883.1 V500.0" fill="none" stroke="#3a3a3a" stroke-width="1.4"/><path d="M845.3,489.6 V479.2" stroke="#6a6a6a" stroke-width="1.4"/><path d="M927.3,529.6 V519.4 H1028.3 V529.6" fill="none" stroke="#3a3a3a" stroke-width="1.4"/><path d="M978.0,519.4 V509.2" stroke="#6a6a6a" stroke-width="1.4"/><polygon points="682.4,367.5 713.5,382 698.8,412 668.3,398.1" fill="#cdd8ee" /><polygon points="713.5,382 743.3,367 758,397 727.9,411.8" fill="#cdd8ee" /><circle cx="682.4" cy="367.5" r="2.0" fill="#1a74c4"/><circle cx="713.5" cy="382" r="2.0" fill="#1a74c4"/><circle cx="698.8" cy="412" r="2.0" fill="#1a74c4"/><circle cx="668.3" cy="398.1" r="2.0" fill="#1a74c4"/><circle cx="743.3" cy="367" r="2.0" fill="#1a74c4"/><circle cx="758" cy="397" r="2.0" fill="#1a74c4"/><circle cx="727.9" cy="411.8" r="2.0" fill="#1a74c4"/><circle cx="690.6" cy="389.8" r="2.0" fill="#5c3b26"/><circle cx="735.5" cy="389.6" r="2.0" fill="#5c3b26"/><path d="M707,371.6 Q713.8,366.2 720.6,371.6" fill="none" stroke="#3b4f66" stroke-width="1.3"/><path d="M704.4,372.8 L709.8,367.2 L709,370.6 L711.2,372.4 Z" fill="#3b4f66"/><path d="M723.2,372.8 L717.8,367.2 L718.6,370.6 L716.4,372.4 Z" fill="#3b4f66"/><polygon points="798.4,447.9 822,424.3 845.6,447.9 822,471.5" fill="#cdd8ee" /><polygon points="845.4,447.9 869,424.3 892.6,447.9 869,471.5" fill="#cdd8ee" /><circle cx="798.4" cy="447.9" r="2.0" fill="#1a74c4"/><circle cx="822" cy="424.3" r="2.0" fill="#1a74c4"/><circle cx="822" cy="471.5" r="2.0" fill="#1a74c4"/><circle cx="845.6" cy="447.9" r="2.0" fill="#1a74c4"/><circle cx="869" cy="424.3" r="2.0" fill="#1a74c4"/><circle cx="869" cy="471.5" r="2.0" fill="#1a74c4"/><circle cx="892.6" cy="447.9" r="2.0" fill="#1a74c4"/><path d="M822.0,435.3 L825.2,441.5 L823.0,442.6 L825.2,443.7 L822.0,449.9 L818.8,443.7 L821.0,442.6 L818.8,441.5 Z" fill="#3d5066"/><circle cx="822" cy="442.3" r="1.8" fill="#6b4a3a"/><path d="M869.0,435.3 L872.2,441.5 L870.0,442.6 L872.2,443.7 L869.0,449.9 L865.8,443.7 L868.0,442.6 L865.8,441.5 Z" fill="#3d5066"/><circle cx="869" cy="442.3" r="1.8" fill="#6b4a3a"/><polygon points="925.4,481.6 951.6,460.7 977.8,481.6 951.6,502.5" fill="#cdd8ee" /><polygon points="978.1,481.6 1004.3,460.7 1030.5,481.6 1004.3,502.5" fill="#cdd8ee" /><circle cx="925.4" cy="481.6" r="2.0" fill="#1a74c4"/><circle cx="977.95" cy="481.6" r="2.0" fill="#1a74c4"/><circle cx="1030.5" cy="481.6" r="2.0" fill="#1a74c4"/><circle cx="951.6" cy="481.6" r="2.0" fill="#5c3b26"/><path d="M951.6,452.9 L954.9,459.2 L952.6,460.29999999999995 L954.9,461.4 L951.6,467.7 L948.3000000000001,461.4 L950.6,460.29999999999995 L948.3000000000001,459.2 Z" fill="#3d5066"/><path d="M951.6,495.4 L954.9,501.7 L952.6,502.65 L954.9,503.59999999999997 L951.6,509.9 L948.3000000000001,503.59999999999997 L950.6,502.65 L948.3000000000001,501.7 Z" fill="#3d5066"/><circle cx="951.6" cy="460.7" r="1.8" fill="#1a74c4"/><circle cx="951.6" cy="502.5" r="1.8" fill="#1a74c4"/><circle cx="1004.3" cy="481.6" r="2.0" fill="#5c3b26"/><path d="M1004.3,452.9 L1007.5999999999999,459.2 L1005.3,460.29999999999995 L1007.5999999999999,461.4 L1004.3,467.7 L1001.0,461.4 L1003.3,460.29999999999995 L1001.0,459.2 Z" fill="#3d5066"/><path d="M1004.3,495.4 L1007.5999999999999,501.7 L1005.3,502.65 L1007.5999999999999,503.59999999999997 L1004.3,509.9 L1001.0,503.59999999999997 L1003.3,502.65 L1001.0,501.7 Z" fill="#3d5066"/><circle cx="1004.3" cy="460.7" r="1.8" fill="#1a74c4"/><circle cx="1004.3" cy="502.5" r="1.8" fill="#1a74c4"/><path d="M585.7,757.9 L588.5,757.9 L591.5,757.9 L594.2,757.9 L640.1,757.9 L653.3,757.9 L655.8,757.9 L657.9,732.78 L662.1,757.9 L668.3,632.28 L672.3,757.9 L679.1,757.9 L681.5,757.9 L684,757.9 L686.4,757.9 L688.8,757.9 L691.2,757.9 L693.6,757.9 L696,757.9 L698.4,757.9 L700.8,757.9 L703.2,757.9 L705.6,757.9 L708.1,757.9 L715.8,757.9 L723.4,757.9 L725.2,589.29 L736.2,757.9 L741.9,757.9 L744.6,757.9 L749.9,756.78 L754,757.9 L757.2,757.9 L760.4,757.9 L767.6,757.9 L769.2,704.3 L774.1,757.9 L777.8,757.9 L788.6,757.9 L792.9,755.67 L795,757.9 L808,757.34 L840.1,757.9 L842.7,757.9 L849.3,757.34 L872.8,757.9 L927.7,757.9 L929.8,757.9 L934.7,757.9 L1005.3,757.9 L1011.3,757.9 L1028.8,757.9 L1028.8,757.9 L585.7,757.9 Z" fill="#d5dbee"/><path d="M585.7,757.9 L588.5,757.9 L591.5,757.9 L594.2,757.9 L640.1,757.9 L653.3,757.9 L655.8,757.9 L657.9,732.78 L662.1,757.9 L668.3,632.28 L672.3,757.9 L679.1,757.9 L681.5,757.9 L684,757.9 L686.4,757.9 L688.8,757.9 L691.2,757.9 L693.6,757.9 L696,757.9 L698.4,757.9 L700.8,757.9 L703.2,757.9 L705.6,757.9 L708.1,757.9 L715.8,757.9 L723.4,757.9 L725.2,589.29 L736.2,757.9 L741.9,757.9 L744.6,757.9 L749.9,756.78 L754,757.9 L757.2,757.9 L760.4,757.9 L767.6,757.9 L769.2,704.3 L774.1,757.9 L777.8,757.9 L788.6,757.9 L792.9,755.67 L795,757.9 L808,757.34 L840.1,757.9 L842.7,757.9 L849.3,757.34 L872.8,757.9 L927.7,757.9 L929.8,757.9 L934.7,757.9 L1005.3,757.9 L1011.3,757.9 L1028.8,757.9" fill="none" stroke="#5a7fc0" stroke-width="1.2" stroke-linejoin="round"/><circle cx="585.7" cy="757.9" r="2.9" fill="#4d75b9"/><circle cx="588.5" cy="757.9" r="2.9" fill="#4d75b9"/><circle cx="591.5" cy="757.9" r="2.9" fill="#4d75b9"/><circle cx="594.2" cy="757.9" r="2.9" fill="#4d75b9"/><circle cx="640.1" cy="757.9" r="2.9" fill="#4d75b9"/><circle cx="653.3" cy="757.9" r="2.9" fill="#4d75b9"/><circle cx="655.8" cy="757.9" r="2.9" fill="#4d75b9"/><circle cx="657.9" cy="732.78" r="2.9" fill="#4d75b9"/><circle cx="662.1" cy="757.9" r="2.9" fill="#4d75b9"/><circle cx="668.3" cy="632.28" r="2.9" fill="#4d75b9"/><circle cx="672.3" cy="757.9" r="2.9" fill="#4d75b9"/><circle cx="679.1" cy="757.9" r="2.9" fill="#4d75b9"/><circle cx="681.5" cy="757.9" r="2.9" fill="#4d75b9"/><circle cx="684" cy="757.9" r="2.9" fill="#4d75b9"/><circle cx="686.4" cy="757.9" r="2.9" fill="#4d75b9"/><circle cx="688.8" cy="757.9" r="2.9" fill="#4d75b9"/><circle cx="691.2" cy="757.9" r="2.9" fill="#4d75b9"/><circle cx="693.6" cy="757.9" r="2.9" fill="#4d75b9"/><circle cx="696" cy="757.9" r="2.9" fill="#4d75b9"/><circle cx="698.4" cy="757.9" r="2.9" fill="#4d75b9"/><circle cx="700.8" cy="757.9" r="2.9" fill="#4d75b9"/><circle cx="703.2" cy="757.9" r="2.9" fill="#4d75b9"/><circle cx="705.6" cy="757.9" r="2.9" fill="#4d75b9"/><circle cx="708.1" cy="757.9" r="2.9" fill="#4d75b9"/><circle cx="715.8" cy="757.9" r="2.9" fill="#4d75b9"/><circle cx="723.4" cy="757.9" r="2.9" fill="#4d75b9"/><circle cx="725.2" cy="589.29" r="2.9" fill="#4d75b9"/><circle cx="736.2" cy="757.9" r="2.9" fill="#4d75b9"/><circle cx="741.9" cy="757.9" r="2.9" fill="#4d75b9"/><circle cx="744.6" cy="757.9" r="2.9" fill="#4d75b9"/><circle cx="749.9" cy="756.78" r="2.9" fill="#4d75b9"/><circle cx="754" cy="757.9" r="2.9" fill="#4d75b9"/><circle cx="757.2" cy="757.9" r="2.9" fill="#4d75b9"/><circle cx="760.4" cy="757.9" r="2.9" fill="#4d75b9"/><circle cx="767.6" cy="757.9" r="2.9" fill="#4d75b9"/><circle cx="769.2" cy="704.3" r="2.9" fill="#4d75b9"/><circle cx="774.1" cy="757.9" r="2.9" fill="#4d75b9"/><circle cx="777.8" cy="757.9" r="2.9" fill="#4d75b9"/><circle cx="788.6" cy="757.9" r="2.9" fill="#4d75b9"/><circle cx="792.9" cy="755.67" r="2.9" fill="#4d75b9"/><circle cx="795" cy="757.9" r="2.9" fill="#4d75b9"/><circle cx="808" cy="757.34" r="2.9" fill="#4d75b9"/><circle cx="840.1" cy="757.9" r="2.9" fill="#4d75b9"/><circle cx="842.7" cy="757.9" r="2.9" fill="#4d75b9"/><circle cx="849.3" cy="757.34" r="2.9" fill="#4d75b9"/><circle cx="872.8" cy="757.9" r="2.9" fill="#4d75b9"/><circle cx="927.7" cy="757.9" r="2.9" fill="#4d75b9"/><circle cx="929.8" cy="757.9" r="2.9" fill="#4d75b9"/><circle cx="934.7" cy="757.9" r="2.9" fill="#4d75b9"/><circle cx="1005.3" cy="757.9" r="2.9" fill="#4d75b9"/><circle cx="1011.3" cy="757.9" r="2.9" fill="#4d75b9"/><circle cx="1028.8" cy="757.9" r="2.9" fill="#4d75b9"/><text x="202.3" y="54.2" font-size="26.5" font-weight="normal" font-style="normal" textLength="70.55" lengthAdjust="spacingAndGlyphs" fill="#231f20" style="white-space:pre">APbX</text><text x="272.85" y="60.4" font-size="19.5" font-weight="normal" font-style="normal" textLength="11.29" lengthAdjust="spacingAndGlyphs" fill="#231f20" style="white-space:pre">3</text><text x="107.2" y="121.9" font-size="26" font-weight="normal" font-style="normal" textLength="36.22" lengthAdjust="spacingAndGlyphs" fill="#231f20" >CB</text><text x="110.08" y="221" font-size="26" font-weight="normal" font-style="normal" textLength="33.27" lengthAdjust="spacingAndGlyphs" fill="#231f20" >VB</text><text x="331.2" y="123.1" font-size="26.5" font-weight="normal" font-style="normal" textLength="46.75" lengthAdjust="spacingAndGlyphs" fill="#231f20" style="white-space:pre">Pb–</text><text x="377.94" y="123.1" font-size="26.5" font-weight="normal" font-style="italic" textLength="14.61" lengthAdjust="spacingAndGlyphs" fill="#231f20" style="white-space:pre">p</text><text x="392.56" y="123.1" font-size="26.5" font-weight="normal" font-style="normal" textLength="39.43" lengthAdjust="spacingAndGlyphs" fill="#231f20" style="white-space:pre"> X–</text><text x="431.99" y="123.1" font-size="26.5" font-weight="normal" font-style="italic" textLength="13.14" lengthAdjust="spacingAndGlyphs" fill="#231f20" style="white-space:pre">s</text><text x="331.19" y="220.9" font-size="26.5" font-weight="normal" font-style="normal" textLength="46.87" lengthAdjust="spacingAndGlyphs" fill="#231f20" style="white-space:pre">Pb–</text><text x="378.06" y="220.9" font-size="26.5" font-weight="normal" font-style="italic" textLength="13.17" lengthAdjust="spacingAndGlyphs" fill="#231f20" style="white-space:pre">s</text><text x="391.23" y="220.9" font-size="26.5" font-weight="normal" font-style="normal" textLength="39.54" lengthAdjust="spacingAndGlyphs" fill="#231f20" style="white-space:pre"> X–</text><text x="430.77" y="220.9" font-size="26.5" font-weight="normal" font-style="italic" textLength="14.65" lengthAdjust="spacingAndGlyphs" fill="#231f20" style="white-space:pre">p</text><polygon points="165.5,111 201,75.5 236.5,111 201,146.5" fill="#e2e6f5" /><polygon points="236.5,111 272,75.5 307.5,111 272,146.5" fill="#e2e6f5" /><ellipse cx="165.6" cy="111" rx="10" ry="10" fill="#6f89dc" fill-opacity="0.62" filter="url(#blurR)"/><ellipse cx="192.3" cy="111" rx="5.6" ry="10.5" fill="#6f89dc" fill-opacity="0.55" filter="url(#blurC)"/><ellipse cx="212" cy="111" rx="5.6" ry="10.5" fill="#ee9a9a" fill-opacity="0.5" filter="url(#blurC)"/><ellipse cx="236.6" cy="111" rx="9.5" ry="9.5" fill="#ee9a9a" fill-opacity="0.6" filter="url(#blurR)"/><ellipse cx="261.2" cy="111" rx="5.6" ry="10.5" fill="#ee9a9a" fill-opacity="0.5" filter="url(#blurC)"/><ellipse cx="281.8" cy="111" rx="5.6" ry="10.5" fill="#6f89dc" fill-opacity="0.55" filter="url(#blurC)"/><ellipse cx="307.6" cy="111" rx="10" ry="10" fill="#6f89dc" fill-opacity="0.62" filter="url(#blurR)"/><circle cx="165.6" cy="111" r="2.9" fill="#7c9bd9"/><circle cx="201" cy="75.5" r="2.9" fill="#7c9bd9"/><circle cx="201" cy="146.5" r="2.9" fill="#7c9bd9"/><circle cx="236.6" cy="111" r="2.9" fill="#7c9bd9"/><circle cx="272" cy="75.5" r="2.9" fill="#7c9bd9"/><circle cx="272" cy="146.5" r="2.9" fill="#7c9bd9"/><circle cx="307.6" cy="111" r="2.9" fill="#7c9bd9"/><circle cx="201" cy="111" r="3.0" fill="#9a8171"/><circle cx="272" cy="111" r="3.0" fill="#9a8171"/><polygon points="165.5,212.3 201,176.8 236.5,212.3 201,247.8" fill="#e2e6f5" /><polygon points="236.5,212.3 272,176.8 307.5,212.3 272,247.8" fill="#e2e6f5" /><ellipse cx="158" cy="212.3" rx="3.6" ry="10" fill="#6f89dc" fill-opacity="0.5" filter="url(#blurE)"/><ellipse cx="172.7" cy="212.3" rx="3.6" ry="10" fill="#ee9a9a" fill-opacity="0.45" filter="url(#blurE)"/><ellipse cx="201.1" cy="212.3" rx="10.5" ry="10.5" fill="#ee9a9a" fill-opacity="0.5" filter="url(#blurR)"/><ellipse cx="230.7" cy="212.3" rx="3.6" ry="10" fill="#ee9a9a" fill-opacity="0.45" filter="url(#blurE)"/><ellipse cx="243.2" cy="212.3" rx="3.6" ry="10" fill="#6f89dc" fill-opacity="0.45" filter="url(#blurE)"/><ellipse cx="272" cy="212.3" rx="11.5" ry="11.5" fill="#6f89dc" fill-opacity="0.62" filter="url(#blurR)"/><ellipse cx="301" cy="212.3" rx="3.6" ry="10" fill="#6f89dc" fill-opacity="0.5" filter="url(#blurE)"/><ellipse cx="314.8" cy="212.3" rx="3.6" ry="10" fill="#ee9a9a" fill-opacity="0.45" filter="url(#blurE)"/><circle cx="165.6" cy="212.3" r="2.9" fill="#7c9bd9"/><circle cx="201" cy="176.8" r="2.9" fill="#7c9bd9"/><circle cx="201" cy="247.8" r="2.9" fill="#7c9bd9"/><circle cx="236.6" cy="212.3" r="2.9" fill="#7c9bd9"/><circle cx="272" cy="176.8" r="2.9" fill="#7c9bd9"/><circle cx="272" cy="247.8" r="2.9" fill="#7c9bd9"/><circle cx="307.6" cy="212.3" r="2.9" fill="#7c9bd9"/><circle cx="201" cy="212.3" r="3.0" fill="#9a8171"/><circle cx="272" cy="212.3" r="3.0" fill="#9a8171"/><polygon points="189.6,324.6 237.5,346.4 214.8,393.2 168,371.6" fill="#e2e6f5" /><polygon points="237.5,346.4 283.4,323.9 306.1,370.5 259.7,393.2" fill="#e2e6f5" /><ellipse cx="168" cy="371.6" rx="10" ry="10" fill="#6f89dc" fill-opacity="0.62" filter="url(#blurR)"/><ellipse cx="193" cy="361.5" rx="5.6" ry="10.5" fill="#6f89dc" fill-opacity="0.55" filter="url(#blurC)" transform="rotate(-20 193 361.5)"/><ellipse cx="212.9" cy="354.5" rx="5.6" ry="10.5" fill="#ee9a9a" fill-opacity="0.5" filter="url(#blurC)" transform="rotate(-20 212.9 354.5)"/><ellipse cx="237.5" cy="341" rx="9.5" ry="9.5" fill="#ee9a9a" fill-opacity="0.6" filter="url(#blurR)"/><ellipse cx="261.2" cy="354.5" rx="5.6" ry="10.5" fill="#ee9a9a" fill-opacity="0.5" filter="url(#blurC)" transform="rotate(20 261.2 354.5)"/><ellipse cx="281.1" cy="361.5" rx="5.6" ry="10.5" fill="#6f89dc" fill-opacity="0.55" filter="url(#blurC)" transform="rotate(20 281.1 361.5)"/><ellipse cx="306.1" cy="370.5" rx="10" ry="10" fill="#6f89dc" fill-opacity="0.62" filter="url(#blurR)"/><circle cx="189.6" cy="324.6" r="2.9" fill="#7c9bd9"/><circle cx="237.5" cy="346.4" r="2.9" fill="#7c9bd9"/><circle cx="214.8" cy="393.2" r="2.9" fill="#7c9bd9"/><circle cx="168" cy="371.6" r="2.9" fill="#7c9bd9"/><circle cx="283.4" cy="323.9" r="2.9" fill="#7c9bd9"/><circle cx="306.1" cy="370.5" r="2.9" fill="#7c9bd9"/><circle cx="259.7" cy="393.2" r="2.9" fill="#7c9bd9"/><circle cx="202.1" cy="359.1" r="3.0" fill="#9a8171"/><circle cx="271.6" cy="358.7" r="3.0" fill="#9a8171"/><polygon points="189.6,429.4 237.5,451.2 214.8,498 168,476.4" fill="#e2e6f5" /><polygon points="237.5,451.2 283.4,428.7 306.1,475.3 259.7,498" fill="#e2e6f5" /><ellipse cx="160.5" cy="476.1" rx="3.6" ry="10" fill="#6f89dc" fill-opacity="0.5" filter="url(#blurE)"/><ellipse cx="175" cy="476.7" rx="3.6" ry="10" fill="#ee9a9a" fill-opacity="0.45" filter="url(#blurE)"/><ellipse cx="202.1" cy="463.4" rx="10.5" ry="10.5" fill="#ee9a9a" fill-opacity="0.5" filter="url(#blurR)"/><ellipse cx="229" cy="450.5" rx="3.6" ry="10" fill="#ee9a9a" fill-opacity="0.45" filter="url(#blurE)" transform="rotate(-20 229 450.5)"/><ellipse cx="244.2" cy="449.5" rx="3.6" ry="10" fill="#6f89dc" fill-opacity="0.45" filter="url(#blurE)" transform="rotate(20 244.2 449.5)"/><ellipse cx="271.6" cy="463.1" rx="11.5" ry="11.5" fill="#6f89dc" fill-opacity="0.62" filter="url(#blurR)"/><ellipse cx="297.8" cy="475.8" rx="3.6" ry="10" fill="#6f89dc" fill-opacity="0.5" filter="url(#blurE)"/><ellipse cx="312.7" cy="475.8" rx="3.6" ry="10" fill="#ee9a9a" fill-opacity="0.45" filter="url(#blurE)"/><circle cx="189.6" cy="429.4" r="2.9" fill="#7c9bd9"/><circle cx="237.5" cy="451.2" r="2.9" fill="#7c9bd9"/><circle cx="214.8" cy="498" r="2.9" fill="#7c9bd9"/><circle cx="168" cy="476.4" r="2.9" fill="#7c9bd9"/><circle cx="283.4" cy="428.7" r="2.9" fill="#7c9bd9"/><circle cx="306.1" cy="475.3" r="2.9" fill="#7c9bd9"/><circle cx="259.7" cy="498" r="2.9" fill="#7c9bd9"/><circle cx="202.1" cy="463.9" r="3.0" fill="#9a8171"/><circle cx="271.6" cy="463.5" r="3.0" fill="#9a8171"/><rect x="235" y="255.2" width="3.5" height="50" fill="url(#grayArrow)"/><path d="M230,304.3 L243.5,304.3 L236.75,320.8 Z" fill="#6f7a8b"/><text x="147.96" y="291.7" font-size="27" font-weight="normal" font-style="normal" textLength="191.24" lengthAdjust="spacingAndGlyphs" fill="#231f20" >Pb–X–Pb tilting</text><rect x="81.9" y="145.9" width="8.4" height="262" fill="url(#gradArrow)"/><path d="M72.2,406.5 L99.6,406.5 L86.1,440.3 Z" fill="#30308f"/><g transform="translate(27.3,377.8) rotate(-90)"><text x="-0.14" y="0" font-size="26.5" font-weight="normal" font-style="normal" textLength="139.23" lengthAdjust="spacingAndGlyphs" fill="#231f20" style="white-space:pre">Weakened </text><text x="139.09" y="0" font-size="26.5" font-weight="normal" font-style="italic" textLength="29.17" lengthAdjust="spacingAndGlyphs" fill="#231f20" style="white-space:pre">sp</text></g><g transform="translate(60.4,427.8) rotate(-90)"><text x="-1.97" y="0" font-size="28.5" font-weight="normal" font-style="normal" textLength="273.35" lengthAdjust="spacingAndGlyphs" fill="#231f20" >bonding/antibonding</text></g>
</svg></body></html>
